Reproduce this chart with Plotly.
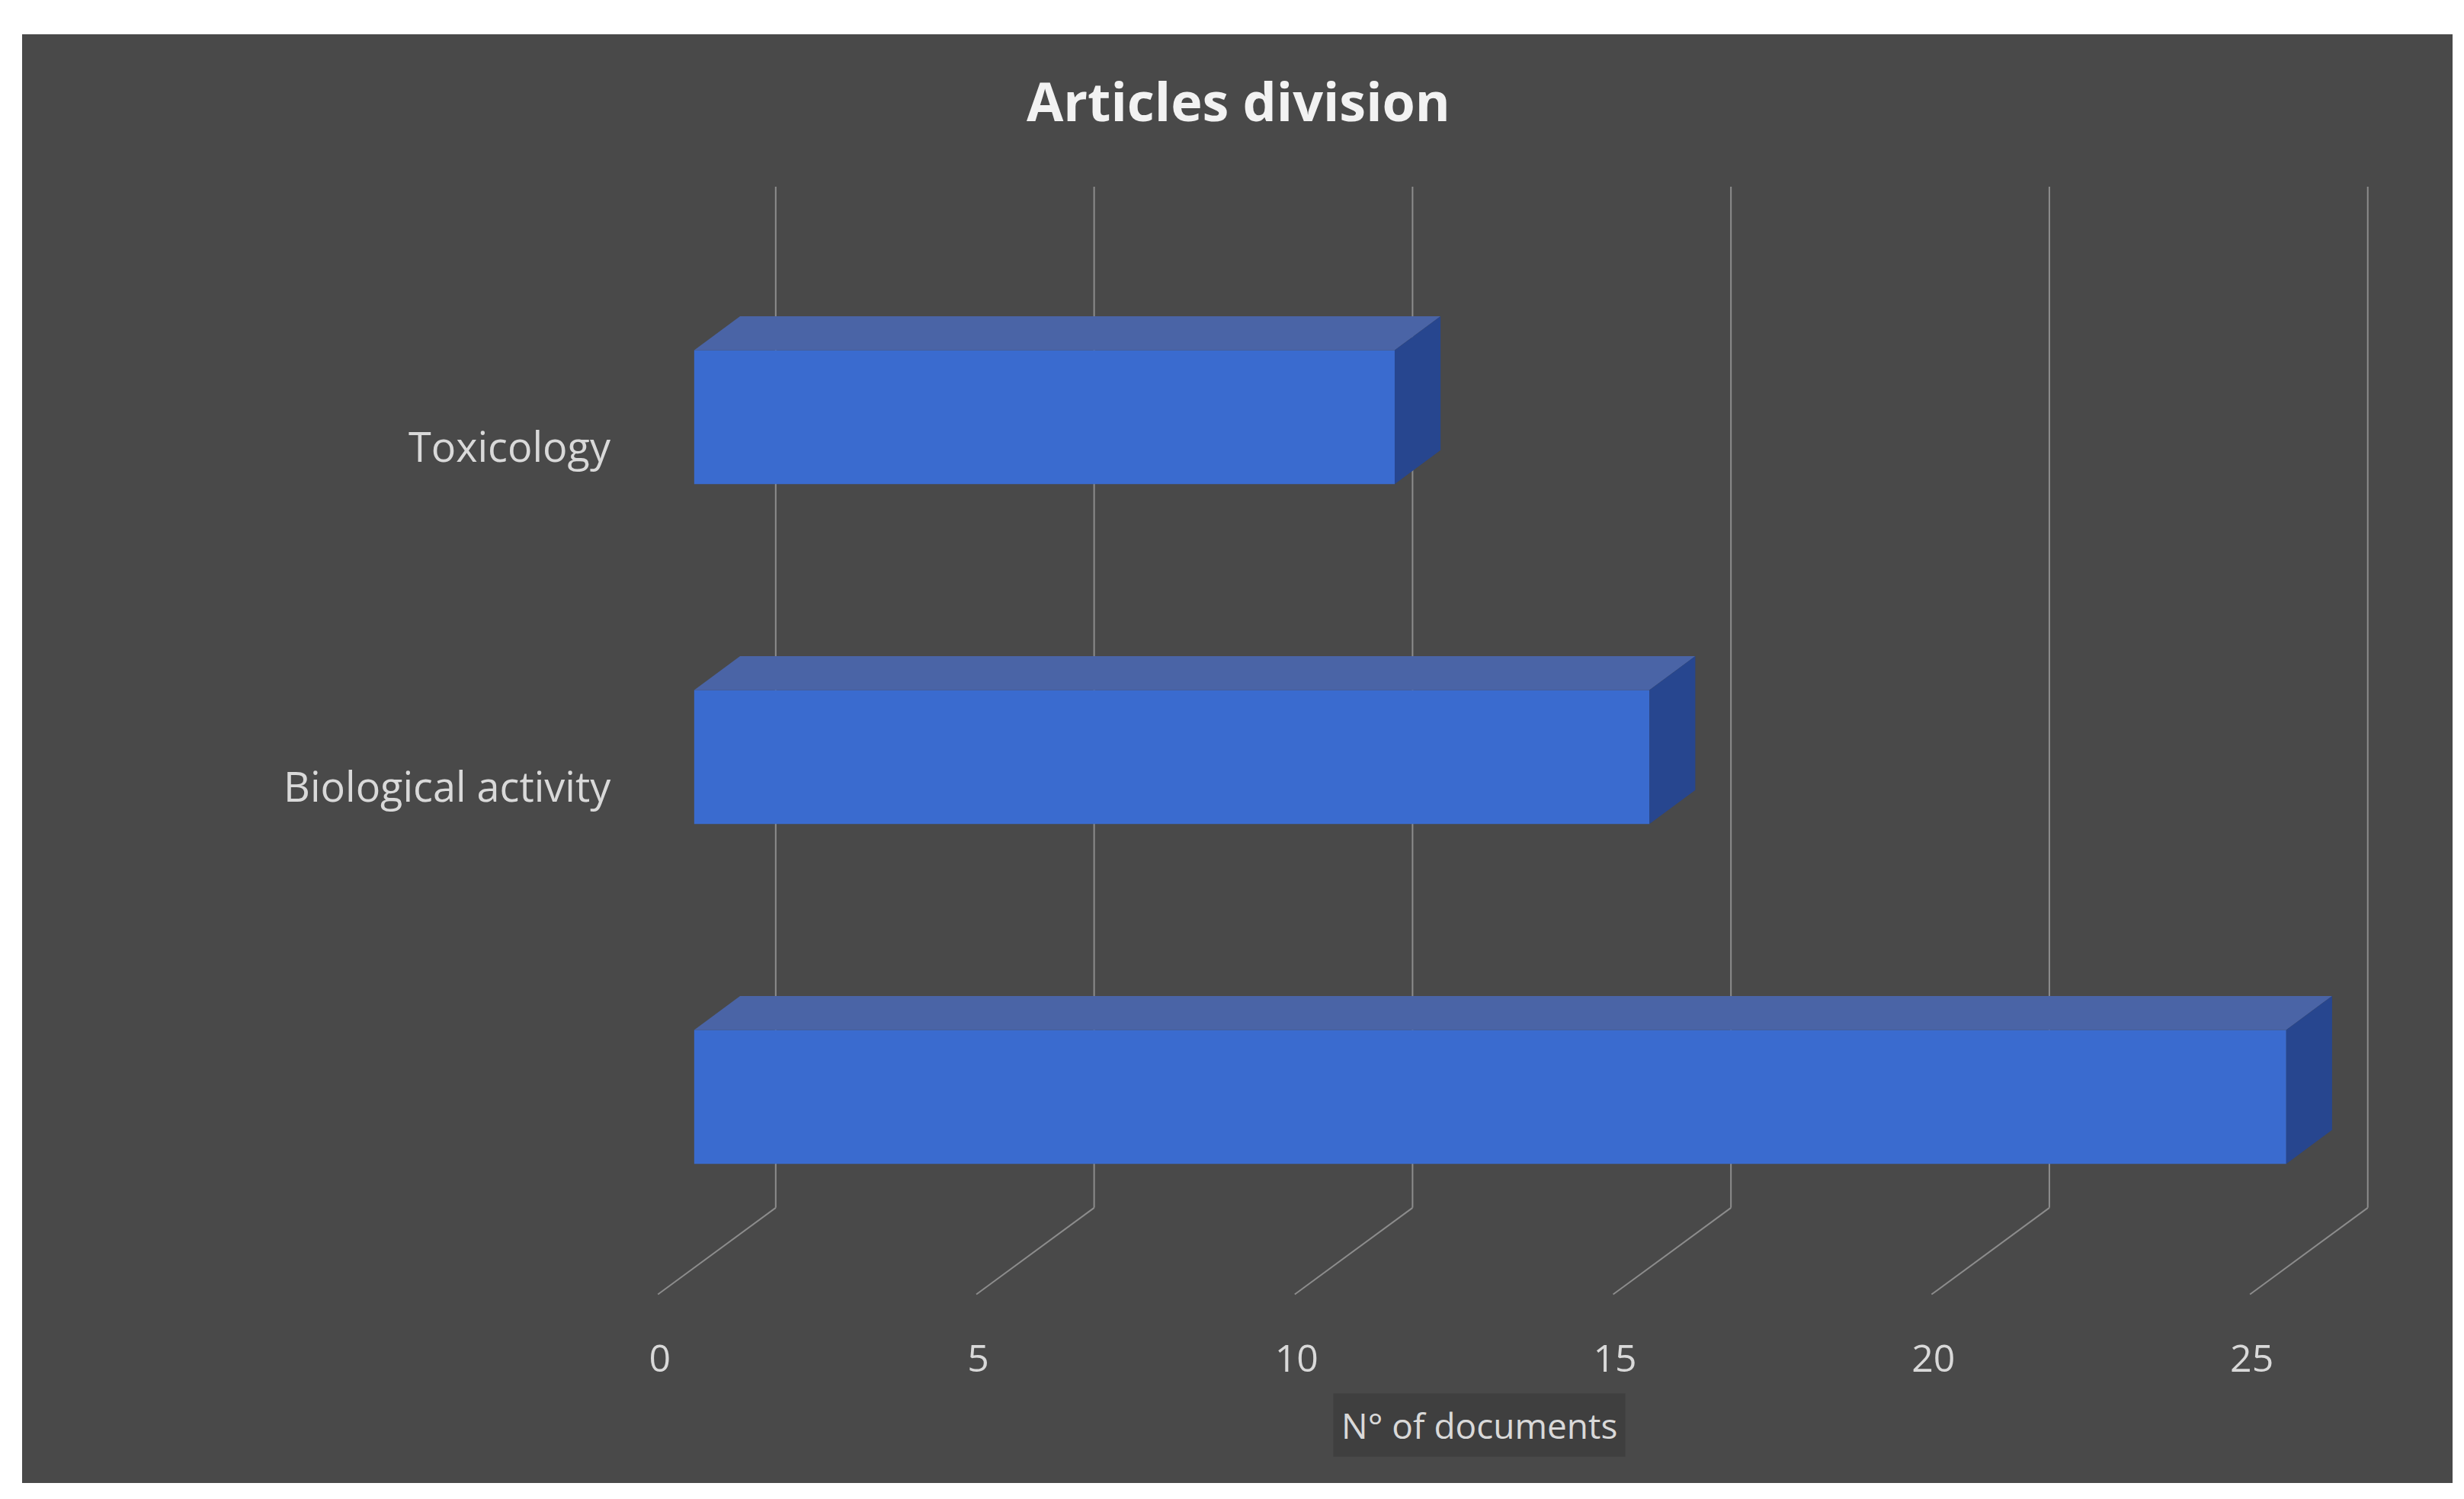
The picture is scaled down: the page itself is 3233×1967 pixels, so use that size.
import plotly.graph_objects as go

categories = ['Chemical characterization', 'Biological activity', 'Toxicology']
documents = [25, 15, 11]
tick_values = [0, 5, 10, 15, 20, 25]

W, H = 3233, 1967
FONT = 'Open Sans'
TXT = '#d9d9d9'

# fake 3d depth, in data units
dx, dy = 0.72, 0.10
half = 0.197
grid_dx = 1.28

fig = go.Figure()

ys = list(range(len(categories)))
fig.add_trace(go.Bar(x=documents, y=ys, orientation='h', width=2 * half,
                     marker=dict(color='#3a6bcf', line=dict(width=0)),
                     hoverinfo='x+y', showlegend=False))

for y, v in zip(ys, documents):
    # top face
    fig.add_trace(go.Scatter(x=[0, v, v + dx, dx, 0],
                             y=[y + half, y + half, y + half + dy, y + half + dy, y + half],
                             fill='toself', fillcolor='#4a64a6', mode='lines',
                             line=dict(width=0), hoverinfo='skip', showlegend=False))
    # side face
    fig.add_trace(go.Scatter(x=[v, v + dx, v + dx, v, v],
                             y=[y - half, y - half + dy, y + half + dy, y + half, y - half],
                             fill='toself', fillcolor='#27468f', mode='lines',
                             line=dict(width=0), hoverinfo='skip', showlegend=False))

shapes = [dict(type='rect', xref='paper', yref='paper', x0=21 / W, x1=3210 / W,
               y0=1 - 1938 / H, y1=1 - 37 / H, fillcolor='#494949',
               line=dict(width=0), layer='below')]
for t in tick_values:
    shapes.append(dict(type='line', xref='x', yref='y', x0=t + grid_dx, x1=t + grid_dx,
                       y0=-0.326, y1=2.678, line=dict(color='#8c8c8c', width=2), layer='below'))
    shapes.append(dict(type='line', xref='x', yref='y', x0=t + grid_dx, x1=t + grid_dx - 1.85,
                       y0=-0.326, y1=-0.581, line=dict(color='#8c8c8c', width=2), layer='below'))

annotations = [
    dict(text='<b>Articles division</b>', xref='paper', yref='paper', x=0.5, y=1 - 124 / H,
         yanchor='middle', showarrow=False, font=dict(size=70, color='#f2f2f2', family=FONT)),
    dict(text='N° of documents', xref='paper', yref='paper', x=0.598, y=1 - 1862 / H,
         yanchor='middle', showarrow=False, bgcolor='#3f3f3f', borderpad=10,
         font=dict(size=46, color=TXT, family=FONT)),
]
for y, name in zip(ys, categories):
    annotations.append(dict(text=name, xref='x', yref='y', x=-1.28 if y else -1.65, y=y - 0.085,
                            xanchor='right', yanchor='middle', showarrow=False,
                            font=dict(size=54, color=TXT, family=FONT)))

fig.update_layout(
    width=W, height=H, margin=dict(l=0, r=0, t=0, b=0),
    paper_bgcolor='white', plot_bgcolor='rgba(0,0,0,0)',
    font=dict(family=FONT, color=TXT),
    shapes=shapes, annotations=annotations,
    xaxis=dict(domain=[0.2405, 0.990], range=[-1.5, 27.5], showgrid=False, zeroline=False,
               showticklabels=False, showline=False),
    xaxis2=dict(overlaying='x', anchor='free', position=0.115, range=[-0.96, 28.04],
                tickvals=tick_values, showgrid=False, zeroline=False, showline=False,
                tickfont=dict(size=50, color=TXT, family=FONT)),
    yaxis=dict(domain=[0.1317, 0.889], range=[-0.62, 2.72], showticklabels=False,
               showgrid=False, zeroline=False, showline=False),
)
# invisible trace so xaxis2 is drawn
fig.add_trace(go.Scatter(x=[0], y=[0], xaxis='x2', mode='markers', opacity=0,
                         hoverinfo='skip', showlegend=False))

fig.write_html('out.html')
